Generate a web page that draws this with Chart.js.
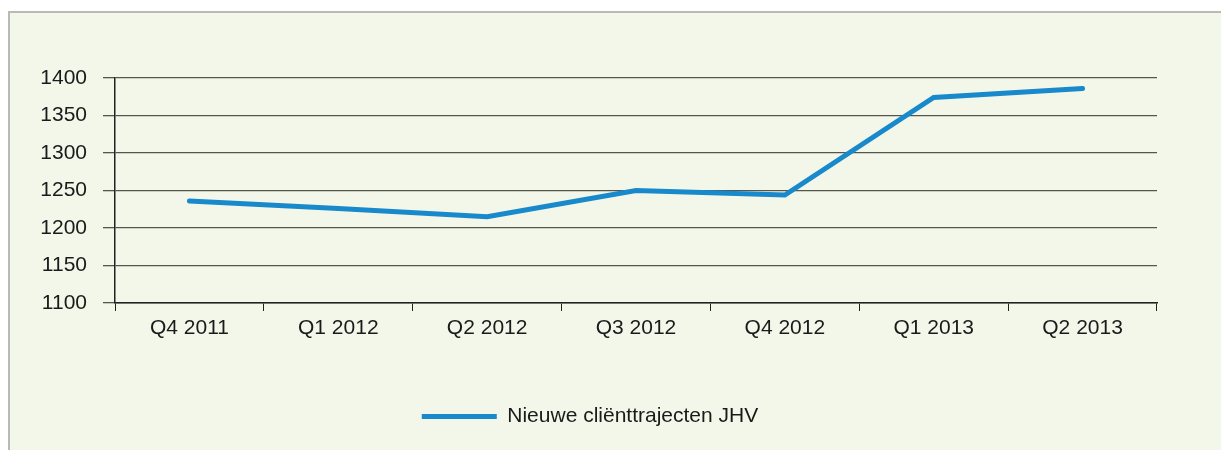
<!DOCTYPE html>
<html>
<head>
<meta charset="utf-8">
<script src="https://cdn.jsdelivr.net/npm/chart.js@4"></script>
<style>
  html, body { margin: 0; padding: 0; background: #ffffff; width: 1221px; height: 450px; overflow: hidden; }
  #frame { position: absolute; left: 8px; top: 11px; width: 1240px; height: 460px; background: #f3f7ea; border-left: 2px solid #b9b9b9; border-top: 2px solid #b9b9b9; }
  #wrap { position: absolute; left: 0; top: 0; width: 1221px; height: 450px; }
</style>
</head>
<body>
<div id="frame"></div>
<div id="wrap"><canvas id="c" width="1221" height="450"></canvas></div>
<script>
const categories = ["Q4 2011", "Q1 2012", "Q2 2012", "Q3 2012", "Q4 2012", "Q1 2013", "Q2 2013"];
const seriesName = "Nieuwe cliënttrajecten JHV";
const seriesValues = [1236, 1226, 1215, 1250, 1244, 1374, 1386];
const yMin = 1100, yMax = 1400, yStep = 50;

const lineColor = "#1889cb";
const fontFamily = "'Liberation Sans', Arial, sans-serif";

new Chart(document.getElementById("c"), {
  type: "line",
  data: {
    labels: categories,
    datasets: [{
      label: seriesName,
      data: seriesValues,
      borderColor: lineColor,
      backgroundColor: lineColor,
      borderWidth: 5,
      pointRadius: 0,
      pointHoverRadius: 0,
      tension: 0,
      borderCapStyle: "round",
      borderJoinStyle: "miter",
      fill: false
    }]
  },
  options: {
    responsive: false,
    animation: false,
    events: [],
    layout: { padding: { left: 23, right: 64, top: 78, bottom: 13 } },
    plugins: {
      tooltip: { enabled: false },
      legend: {
        position: "bottom",
        labels: {
          color: "#1a1a1a",
          font: { family: fontFamily, size: 21 },
          boxWidth: 75,
          boxHeight: 5,
          padding: 10,
          generateLabels(chart) {
            const items = Chart.defaults.plugins.legend.labels.generateLabels(chart);
            items.forEach(it => { it.lineWidth = 0; it.fillStyle = lineColor; it.strokeStyle = lineColor; });
            return items;
          }
        }
      }
    },
    scales: {
      x: {
        offset: true,
        grid: {
          offset: true,
          drawOnChartArea: false,
          drawTicks: true,
          tickLength: 8,
          color: "#222222",
          lineWidth: 1
        },
        border: { display: true, color: "#222222", width: 1.5 },
        ticks: {
          color: "#1a1a1a",
          font: { family: fontFamily, size: 21 },
          padding: 5,
          maxRotation: 0,
          autoSkip: false
        },
        afterFit(scale) { scale.height = 93; }
      },
      y: {
        min: yMin,
        max: yMax,
        ticks: {
          stepSize: yStep,
          color: "#1a1a1a",
          font: { family: fontFamily, size: 21 },
          padding: 16,
          callback: (v) => String(v)
        },
        grid: {
          color: "#55554c",
          lineWidth: 1.3,
          tickLength: 12,
          drawTicks: true
        },
        border: { display: true, color: "#222222", width: 1.5 },
        afterFit(scale) { scale.width = 92; }
      }
    }
  }
});
</script>
</body>
</html>
